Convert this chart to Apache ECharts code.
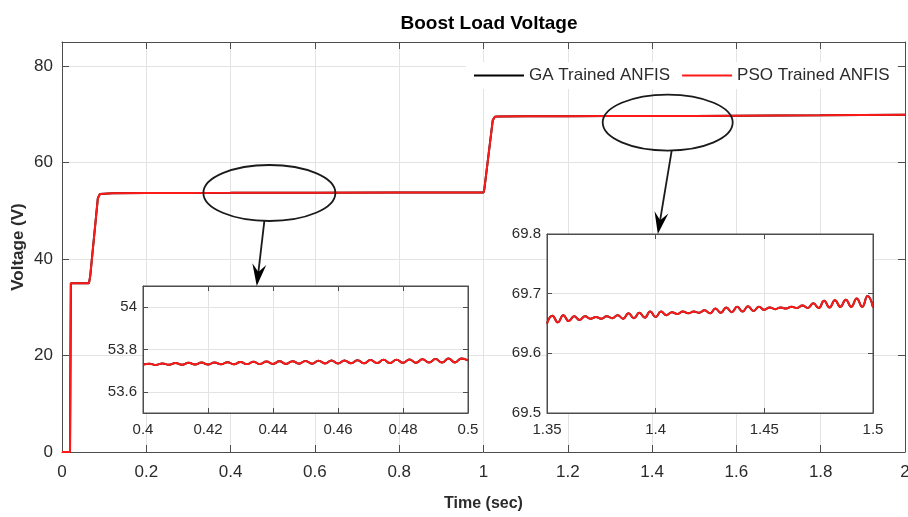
<!DOCTYPE html>
<html>
<head>
<meta charset="utf-8">
<script src="https://cdn.jsdelivr.net/npm/echarts@6/dist/echarts.min.js"></script>
<style>
  html, body { margin: 0; padding: 0; background: #fff; }
  #chart { width: 908px; height: 517px; }
</style>
</head>
<body>
<div id="chart"></div>
<script>
// ---- Boost converter load voltage (V) against time (s) ----

// Start-up: zero, first plateau, second ramp, early steady state
const headTime = [0, 0.019, 0.021, 0.064, 0.067, 0.085, 0.090, 0.12, 0.2, 0.3];
const headVolt = [0, 0, 35, 35, 36.5, 52.6, 53.5, 53.62, 53.68, 53.71];

// Steady state between 0.4 s and 0.5 s (ripple)
const zoomATime = [0.400, 0.402, 0.404, 0.406, 0.408, 0.410, 0.412, 0.414, 0.416, 0.418,
                   0.420, 0.422, 0.424, 0.426, 0.428, 0.430, 0.432, 0.434, 0.436, 0.438,
                   0.440, 0.442, 0.444, 0.446, 0.448, 0.450, 0.452, 0.454, 0.456, 0.458,
                   0.460, 0.462, 0.464, 0.466, 0.468, 0.470, 0.472, 0.474, 0.476, 0.478,
                   0.480, 0.482, 0.484, 0.486, 0.488, 0.490, 0.492, 0.494, 0.496, 0.498, 0.500];
const zoomAVolt = [53.729, 53.733, 53.727, 53.734, 53.728, 53.736, 53.728, 53.737, 53.729, 53.738,
                   53.729, 53.739, 53.730, 53.740, 53.730, 53.741, 53.731, 53.742, 53.731, 53.743,
                   53.732, 53.744, 53.732, 53.745, 53.733, 53.746, 53.733, 53.747, 53.734, 53.748,
                   53.734, 53.748, 53.735, 53.749, 53.735, 53.750, 53.736, 53.751, 53.736, 53.752,
                   53.737, 53.753, 53.737, 53.754, 53.738, 53.755, 53.738, 53.757, 53.739, 53.758, 53.748];

// Rest of the first level and the step to the second level at 1 s
const midTime = [0.6, 0.8, 0.95, 1.0, 1.002, 1.022, 1.027, 1.035, 1.1, 1.2, 1.3];
const midVolt = [53.76, 53.78, 53.8, 53.8, 54.5, 68.8, 69.5, 69.58, 69.61, 69.63, 69.645];

// Steady state between 1.35 s and 1.5 s (ripple)
const zoomBTime = [1.3500, 1.3525, 1.3550, 1.3575, 1.3600, 1.3625, 1.3650, 1.3675, 1.3700, 1.3725,
                   1.3750, 1.3775, 1.3800, 1.3825, 1.3850, 1.3875, 1.3900, 1.3925, 1.3950, 1.3975,
                   1.4000, 1.4025, 1.4050, 1.4075, 1.4100, 1.4125, 1.4150, 1.4175, 1.4200, 1.4225,
                   1.4250, 1.4275, 1.4300, 1.4325, 1.4350, 1.4375, 1.4400, 1.4425, 1.4450, 1.4475,
                   1.4500, 1.4525, 1.4550, 1.4575, 1.4600, 1.4625, 1.4650, 1.4675, 1.4700, 1.4725,
                   1.4750, 1.4775, 1.4800, 1.4825, 1.4850, 1.4875, 1.4900, 1.4925, 1.4950, 1.4975, 1.5000];
const zoomBVolt = [69.650, 69.663, 69.652, 69.664, 69.654, 69.662, 69.656, 69.662, 69.658, 69.661,
                   69.658, 69.662, 69.659, 69.664, 69.658, 69.667, 69.659, 69.668, 69.660, 69.670,
                   69.661, 69.670, 69.664, 69.669, 69.666, 69.670, 69.667, 69.670, 69.668, 69.672,
                   69.667, 69.675, 69.668, 69.677, 69.669, 69.678, 69.670, 69.679, 69.671, 69.678,
                   69.673, 69.677, 69.674, 69.677, 69.675, 69.678, 69.676, 69.680, 69.676, 69.684,
                   69.676, 69.688, 69.677, 69.689, 69.678, 69.690, 69.678, 69.692, 69.678, 69.696, 69.677];

// Remainder of the run
const tailTime = [1.6, 1.8, 2.0];
const tailVolt = [69.72, 69.8, 69.9];

const seriesNames = ['GA Trained ANFIS', 'PSO Trained ANFIS'];
const seriesColors = ['#000000', '#ff1a1a'];

const zoomATicksY = [53.6, 53.8, 54.0];

function zip(ts, vs) { return ts.map((t, i) => [t, vs[i]]); }

const fullRun = [].concat(
  zip(headTime, headVolt), zip(zoomATime, zoomAVolt), zip(midTime, midVolt),
  zip(zoomBTime, zoomBVolt), zip(tailTime, tailVolt)
);
const zoomA = zip(zoomATime, zoomAVolt);
const zoomB = zip(zoomBTime, zoomBVolt);

const FONT = "'Liberation Sans', Arial, sans-serif";
const TXT = '#2b2b2b';
const AXIS = '#4d4d4d';
const GRIDLINE = '#e3e3e3';

const trim = (v, d) => String(parseFloat(v.toFixed(d)));

// Four axes per grid: bottom/left carry labels, top/right only inward ticks
function boxAxes(g, x, y, z) {
  const make = (pos, labelled, ax) => {
    const o = {
      type: 'value', gridIndex: g, position: pos, z: z,
      min: ax.min, max: ax.max,
      axisLine: { show: true, onZero: false, lineStyle: { color: AXIS, width: 1 } },
      axisTick: { show: true, inside: true, length: ax.tick, lineStyle: { color: AXIS } },
      splitLine: { show: labelled, lineStyle: { color: GRIDLINE, width: 1 } },
      axisLabel: {
        show: labelled, color: TXT, fontFamily: FONT, fontSize: ax.fs,
        margin: ax.margin, formatter: ax.fmt, showMaxLabel: ax.showMax !== false
      }
    };
    if (ax.interval != null) o.interval = ax.interval;
    if (ax.custom) {
      o.axisTick.customValues = ax.custom;
      o.axisLabel.customValues = ax.custom;
    }
    if (ax.name && labelled) Object.assign(o, ax.name);
    return o;
  };
  return {
    x: [make('bottom', true, x), make('top', false, x)],
    y: [make('left', true, y), make('right', false, y)]
  };
}

const mainAxes = boxAxes(0,
  { min: 0, max: 2, interval: 0.2, tick: 7, fs: 17, margin: 12, fmt: v => trim(v, 2),
    name: { name: 'Time (sec)', nameLocation: 'middle', nameGap: 44,
            nameTextStyle: { fontFamily: FONT, fontWeight: 'bold', fontSize: 16, color: TXT } } },
  { min: 0, max: 85, interval: 20, tick: 7, fs: 17, margin: 9, fmt: v => trim(v, 0), showMax: false,
    name: { name: 'Voltage (V)', nameLocation: 'middle', nameGap: 35, nameRotate: 90,
            nameMoveOverlap: false,
            nameTextStyle: { fontFamily: FONT, fontWeight: 'bold', fontSize: 17, color: TXT } } },
  0);
const insetAAxes = boxAxes(1,
  { min: 0.4, max: 0.5, interval: 0.02, tick: 5, fs: 15, margin: 9, fmt: v => trim(v, 2) },
  { min: 53.5, max: 54.1, custom: zoomATicksY, tick: 5, fs: 15, margin: 6, fmt: v => trim(v, 1) },
  11);
const insetBAxes = boxAxes(2,
  { min: 1.35, max: 1.5, interval: 0.05, tick: 5, fs: 15, margin: 9, fmt: v => trim(v, 2) },
  { min: 69.5, max: 69.8, interval: 0.1, tick: 5, fs: 15, margin: 6, fmt: v => trim(v, 1) },
  11);

function lineSeries(name, color, data, xi, yi, z, smooth) {
  return {
    type: 'line', name: name, data: data, xAxisIndex: xi, yAxisIndex: yi,
    showSymbol: false, symbol: 'none', smooth: smooth, z: z, clip: true,
    lineStyle: { color: color, width: 2 }, itemStyle: { color: color },
    emphasis: { disabled: true }, animation: false
  };
}

const chart = echarts.init(document.getElementById('chart'), null, { renderer: 'canvas' });

chart.setOption({
  animation: false,
  backgroundColor: '#ffffff',
  title: {
    text: 'Boost Load Voltage', left: 484, top: 9, textAlign: 'center',
    textStyle: { fontFamily: FONT, fontWeight: 'bold', fontSize: 19, color: '#000' }
  },
  legend: {
    data: seriesNames, left: 466, top: 62, z: 8,
    icon: 'rect', itemWidth: 50, itemHeight: 2, itemGap: 12,
    padding: [5, 8], backgroundColor: '#ffffff',
    textStyle: { fontFamily: FONT, fontSize: 17, color: TXT }
  },
  grid: [
    { left: 62, right: 3, top: 42, bottom: 65, show: false, outerBoundsMode: 'none' },
    { left: 143, right: 440, top: 286, bottom: 104, show: true, z: 10, outerBoundsMode: 'none',
      backgroundColor: '#ffffff', borderColor: AXIS, borderWidth: 1 },
    { left: 547, right: 35, top: 234, bottom: 104, show: true, z: 10, outerBoundsMode: 'none',
      backgroundColor: '#ffffff', borderColor: AXIS, borderWidth: 1 }
  ],
  xAxis: [].concat(mainAxes.x, insetAAxes.x, insetBAxes.x),
  yAxis: [].concat(mainAxes.y, insetAAxes.y, insetBAxes.y),
  series: [
    lineSeries(seriesNames[0], seriesColors[0], fullRun, 0, 0, 2, false),
    lineSeries(seriesNames[1], seriesColors[1], fullRun, 0, 0, 3, false),
    lineSeries(seriesNames[0], seriesColors[0], zoomA, 2, 2, 12, 0.5),
    lineSeries(seriesNames[1], seriesColors[1], zoomA, 2, 2, 13, 0.5),
    lineSeries(seriesNames[0], seriesColors[0], zoomB, 4, 4, 12, 0.5),
    lineSeries(seriesNames[1], seriesColors[1], zoomB, 4, 4, 13, 0.5)
  ]
});

// Callout ellipses on the main trace with arrows to their zoomed views
function callout(center, rx, ry, startDx, tipFinder, tipPoint) {
  const c = chart.convertToPixel({ xAxisIndex: 0, yAxisIndex: 0 }, center);
  const tip = chart.convertToPixel(tipFinder, tipPoint);
  const sx = c[0] + startDx, sy = c[1] + ry;
  const dx = tip[0] - sx, dy = tip[1] - sy;
  const len = Math.sqrt(dx * dx + dy * dy);
  const ux = dx / len, uy = dy / len;
  const headLen = 22, headHalf = 7, notch = 8;
  const bx = tip[0] - ux * headLen, by = tip[1] - uy * headLen;
  const stroke = { stroke: '#1a1a1a', lineWidth: 1.8, fill: null };
  return [
    { type: 'ellipse', z: 30, shape: { cx: c[0], cy: c[1], rx: rx, ry: ry }, style: stroke },
    { type: 'line', z: 30, shape: { x1: sx, y1: sy, x2: bx + ux * notch, y2: by + uy * notch }, style: stroke },
    { type: 'polygon', z: 30,
      shape: { points: [[tip[0], tip[1]],
                        [bx - uy * headHalf, by + ux * headHalf],
                        [bx + ux * notch, by + uy * notch],
                        [bx + uy * headHalf, by - ux * headHalf]] },
      style: { fill: '#000' } }
  ];
}

chart.setOption({
  graphic: [].concat(
    callout([0.492, 53.7], 66, 28, -5, { xAxisIndex: 2, yAxisIndex: 2 }, [0.435, 54.1]),
    callout([1.437, 68.3], 65, 28, 4, { xAxisIndex: 4, yAxisIndex: 4 }, [1.401, 69.8])
  )
});
</script>
</body>
</html>
